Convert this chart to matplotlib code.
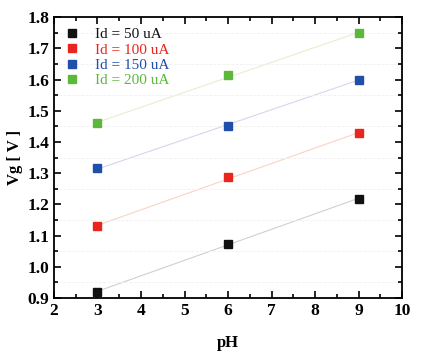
import numpy as np
import matplotlib
matplotlib.use('Agg')
import matplotlib.pyplot as plt
from matplotlib.ticker import MultipleLocator

# data
pH = [3, 6, 9]
vg_50 = [0.92, 1.073, 1.218]
vg_100 = [1.13, 1.287, 1.427]
vg_150 = [1.315, 1.452, 1.600]
vg_200 = [1.46, 1.613, 1.748]
labels = ['Id = 50 uA', 'Id = 100 uA', 'Id = 150 uA', 'Id = 200 uA']
colors = ['#111111', '#e8251f', '#1f4fa8', '#5cb83a']
line_colors = ['#d0d0d0', '#f8d4c4', '#d4d6ee', '#ececcc']

plt.rcParams['font.family'] = ['Liberation Serif', 'DejaVu Serif']

fig = plt.figure(figsize=(4.25, 3.56), dpi=100)
ax = fig.add_axes([0.127, 0.163, 0.819, 0.789])

for vals, lab, c, lc in zip([vg_50, vg_100, vg_150, vg_200], labels, colors, line_colors):
    k, b = np.polyfit(pH, vals, 1)
    xs = np.array([pH[0], pH[-1]])
    ax.plot(xs, k * xs + b, color=lc, lw=0.8, zorder=1)
    ax.plot(pH, vals, 's', color=c, ms=6, label=lab, zorder=3)

ax.set_xlim(2, 10)
ax.set_ylim(0.9, 1.8)
ax.xaxis.set_major_locator(MultipleLocator(1))
ax.xaxis.set_minor_locator(MultipleLocator(0.5))
ax.yaxis.set_major_locator(MultipleLocator(0.1))
ax.yaxis.set_minor_locator(MultipleLocator(0.05))
ax.yaxis.set_major_formatter(matplotlib.ticker.FormatStrFormatter('%.1f'))
ax.tick_params(which='both', direction='in', top=True, right=True, width=1.2)
ax.tick_params(which='major', length=5, labelsize=12.5)
ax.tick_params(which='minor', length=3)
for lbl in ax.get_xticklabels() + ax.get_yticklabels():
    lbl.set_fontweight('bold')
for s in ax.spines.values():
    s.set_linewidth(1.3)
ax.grid(which='minor', axis='y', color='#f0f0f0', ls='--', lw=0.6)

ax.set_xlabel('pH', fontsize=12, fontweight='bold', labelpad=12)
ax.set_ylabel('Vg [ V ]', fontsize=12, fontweight='bold', labelpad=3)

leg = ax.legend(loc='upper left', frameon=False, fontsize=11, handlelength=1.0,
                handletextpad=1.0, labelspacing=0.1, borderaxespad=0.3)
for t, c in zip(leg.get_texts(), colors):
    t.set_color(c)

fig.savefig('out.png', dpi=100)
